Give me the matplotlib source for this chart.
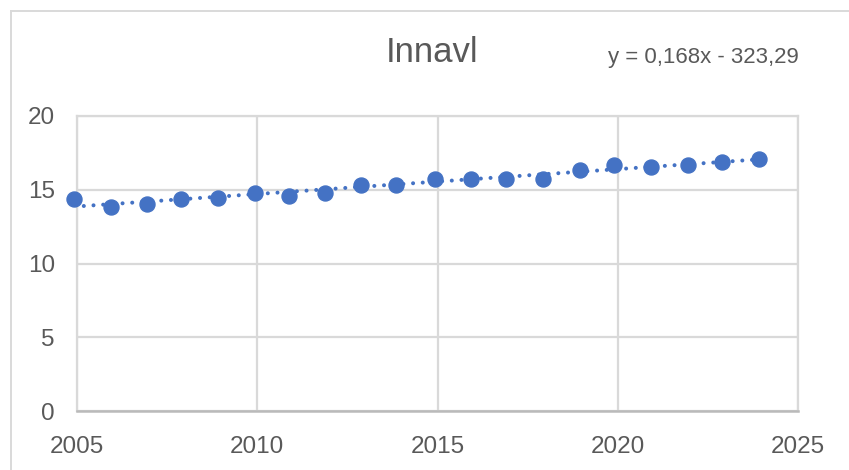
import numpy as np
import matplotlib
matplotlib.use('Agg')
import matplotlib.pyplot as plt
from matplotlib.lines import Line2D

# values
years = [2004.92, 2005.94, 2006.94, 2007.89, 2008.90, 2009.93, 2010.87,
         2011.88, 2012.89, 2013.84, 2014.93, 2015.94, 2016.90, 2017.93,
         2018.95, 2019.90, 2020.92, 2021.94, 2022.90, 2023.93]
innavl = [14.39, 13.83, 14.03, 14.39, 14.41, 14.78, 14.60, 14.80, 15.34, 15.34,
          15.74, 15.74, 15.74, 15.74, 16.33, 16.71, 16.51, 16.71, 16.90, 17.08]
x_ticks = [2005, 2010, 2015, 2020, 2025]
y_ticks = [0, 5, 10, 15, 20]
title = 'Innavl'
equation = 'y = 0,168x - 323,29'

blue = '#4472C4'
grid_col = '#d9d9d9'
text_col = '#595959'

plt.rcParams['font.family'] = ['Liberation Sans', 'DejaVu Sans']

fig = plt.figure(figsize=(8.49, 4.70), dpi=100)
ax = fig.add_axes([77 / 849, 1 - 411 / 470, (798 - 77) / 849, (411 - 116) / 470])

# trendline from a linear fit of the data
slope, icept = np.polyfit(years, innavl, 1)
tx = np.array([years[0], years[-1]])
ax.plot(tx, slope * tx + icept, color=blue, lw=2.9,
        linestyle=(0, (0.01, 2.4)), dash_capstyle='round', zorder=2)

ax.plot(years, innavl, 'o', color=blue, ms=10.8, mec=blue, clip_on=False, zorder=3)

ax.set_xlim(2005, 2025)
ax.set_ylim(0, 20)
ax.set_xticks(x_ticks)
ax.set_yticks(y_ticks)
ax.grid(True, color=grid_col, lw=1.6)
ax.set_axisbelow(True)
ax.tick_params(length=0, labelsize=17.5, labelcolor=text_col)
ax.tick_params(axis='x', pad=18)
ax.tick_params(axis='y', pad=16)

for side in ['top', 'right', 'left']:
    ax.spines[side].set_color(grid_col)
    ax.spines[side].set_linewidth(1.6)
ax.spines['bottom'].set_color('#bababa')
ax.spines['bottom'].set_linewidth(1.8)

fig.text(432 / 849, 1 - 53 / 470, title, fontsize=25, color=text_col,
         ha='center', va='center')
fig.text(703 / 849, 1 - 58 / 470, equation, fontsize=16, color=text_col,
         ha='center', va='center')

# outer chart frame (cut off at right and bottom)
fig.add_artist(Line2D([11 / 849, 1.0], [1 - 11 / 470, 1 - 11 / 470],
                      color=grid_col, lw=1.4, transform=fig.transFigure))
fig.add_artist(Line2D([11 / 849, 11 / 849], [0.0, 1 - 11 / 470],
                      color=grid_col, lw=1.4, transform=fig.transFigure))

fig.savefig('out.png', dpi=100)
